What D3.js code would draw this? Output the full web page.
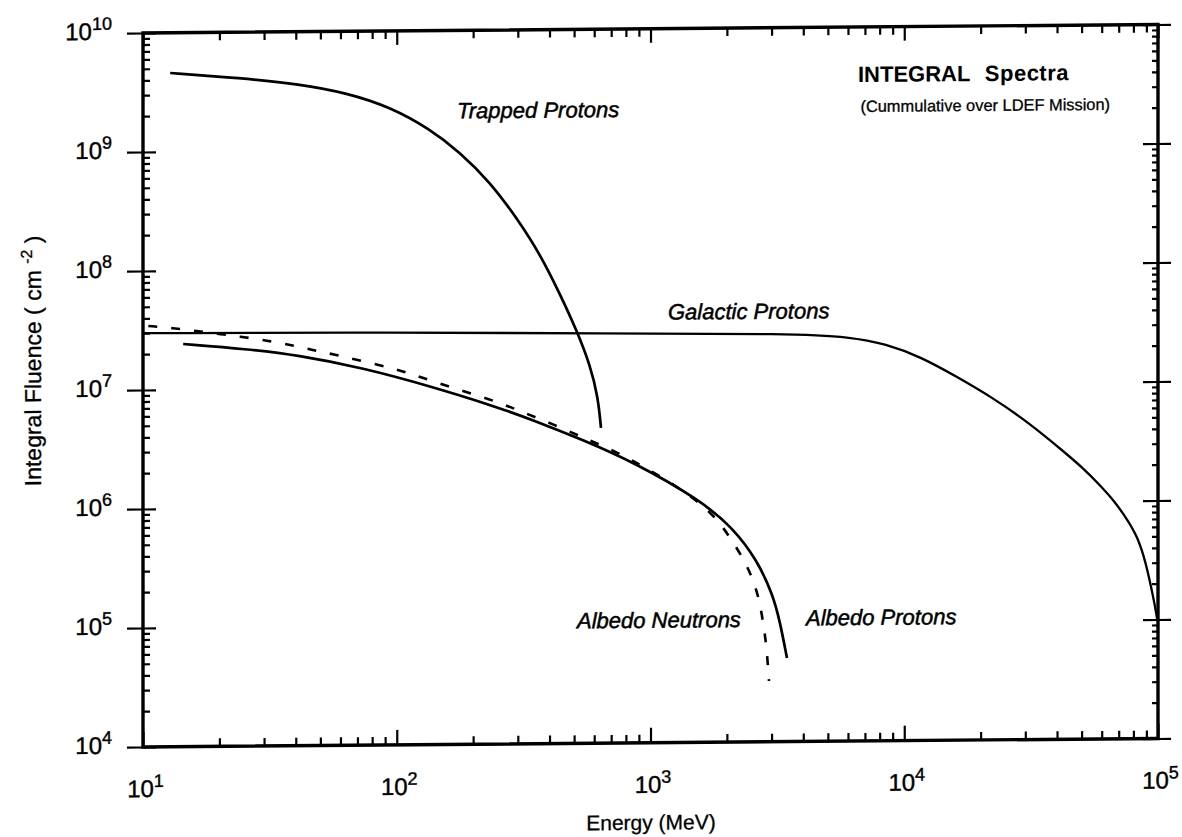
<!DOCTYPE html>
<html>
<head>
<meta charset="utf-8">
<script src="https://cdn.jsdelivr.net/npm/d3@7"></script>
<style>
body { margin: 0; background: #fff; }
svg { display: block; font-family: "Liberation Sans", Arial, Helvetica, sans-serif; }
</style>
</head>
<body>
<div id="chart"></div>
<script>
// exponents used for the tick labels (10^n)
var xTickExp = [1, 2, 3, 4, 5];
var yTickExp = [4, 5, 6, 7, 8, 9, 10];

// energy (MeV) / integral fluence (cm^-2)
var trappedE = [12.8, 24.1, 41.6, 63.7, 94, 135, 177, 233, 298, 367, 440, 513, 578, 621, 638];
var trappedF = [4.59e9, 4.12e9, 3.63e9, 3.03e9, 2.3e9, 1.49e9, 9.5e8, 5.3e8, 2.6e8, 1.3e8, 5.98e7, 2.92e7, 1.51e7, 8.1e6, 4.46e6];

var galacticE = [10, 100, 630, 3700, 6110, 8470, 11640, 16140, 22390, 31050, 42660, 50600, 59000, 67700, 75500, 83400, 89700, 93800, 97300, 99100];
var galacticF = [3.0e7, 2.94e7, 2.77e7, 2.68e7, 2.49e7, 2.16e7, 1.67e7, 1.13e7, 7.46e6, 4.58e6, 2.6e6, 1.9e6, 1.36e6, 9.8e5, 7.0e5, 4.9e5, 2.95e5, 1.9e5, 1.3e5, 1.02e5];

var protonsE = [14.4, 25.7, 40.5, 73.6, 135, 248, 344, 542, 853, 1567, 2114, 2630, 3040, 3240, 3450];
var protonsF = [2.42e7, 2.17e7, 1.92e7, 1.48e7, 1.03e7, 6.8e6, 5.25e6, 3.54e6, 2.3e6, 1.09e6, 6.3e5, 3.37e5, 1.71e5, 1.01e5, 5.04e4];

var neutronsE = [10.5, 13.1, 16.3, 25, 31.4, 39.7, 48.5, 60.3, 75.6, 95.7, 117, 146, 182, 231, 287, 357, 448, 557, 680, 845, 1194, 1610, 1880, 2114, 2336, 2512, 2654, 2750, 2825, 2877, 2930];
var neutronsF = [3.45e7, 3.3e7, 3.1e7, 2.74e7, 2.53e7, 2.29e7, 2.07e7, 1.87e7, 1.66e7, 1.47e7, 1.28e7, 1.09e7, 9.3e6, 7.94e6, 6.65e6, 5.46e6, 4.48e6, 3.6e6, 3.02e6, 2.38e6, 1.55e6, 9.9e5, 6.95e5, 4.8e5, 3.38e5, 2.43e5, 1.71e5, 1.16e5, 7.9e4, 5.7e4, 3.24e4];

function main()
{
    var svgWidth = 1182;
    var svgHeight = 837;

    var svg = d3.select("#chart").append("svg")
        .attr("width", svgWidth)
        .attr("height", svgHeight);

    svg.append("rect")
        .attr("width", svgWidth)
        .attr("height", svgHeight)
        .attr("fill", "#fff");

    // the scan is slightly sheared: right side sits ~8px higher than the left
    var plot = svg.append("g")
        .attr("transform", "translate(143,0) skewY(-0.48) translate(-143,0)");

    var x = d3.scaleLog().domain([10, 1e5]).range([143, 1158]);
    var y = d3.scaleLog().domain([1e4, 1e10]).range([747, 33]);

    var majorX = xTickExp.map(function(e) { return Math.pow(10, e); });
    var majorY = yTickExp.map(function(e) { return Math.pow(10, e); });

    function minors(majors) {
        var out = [];
        majors.slice(0, -1).forEach(function(m) {
            for (var k = 2; k < 10; k++) out.push(m * k);
        });
        return out;
    }
    var minorX = minors(majorX);
    var minorY = minors(majorY);

    // tick marks only (labels drawn separately)
    function ticks(axis, tx, ty) {
        plot.append("g")
            .attr("transform", "translate(" + tx + "," + ty + ")")
            .call(axis.tickFormat(function() { return ""; }))
            .call(function(g) { g.select(".domain").remove(); })
            .selectAll("line")
            .attr("stroke", "#000")
            .attr("stroke-width", 2.2);
    }

    // bottom
    ticks(d3.axisTop(x).tickValues(majorX).tickSize(15), 0, 747);
    ticks(d3.axisTop(x).tickValues(minorX).tickSize(8), 0, 747);
    // top
    ticks(d3.axisBottom(x).tickValues(majorX).tickSize(14), 0, 33);
    ticks(d3.axisBottom(x).tickValues(minorX).tickSize(8), 0, 33);
    // left
    ticks(d3.axisRight(y).tickValues(majorY).tickSize(13), 143, 0);
    ticks(d3.axisRight(y).tickValues(minorY).tickSize(7), 143, 0);
    ticks(d3.axisLeft(y).tickValues(majorY).tickSize(16), 143, 0);
    // right
    ticks(d3.axisLeft(y).tickValues(majorY).tickSize(15), 1158, 0);
    ticks(d3.axisLeft(y).tickValues(minorY).tickSize(6), 1158, 0);
    ticks(d3.axisRight(y).tickValues(majorY).tickSize(13), 1158, 0);

    // frame
    plot.append("rect")
        .attr("x", 143)
        .attr("y", 33)
        .attr("width", 1158 - 143)
        .attr("height", 747 - 33)
        .attr("fill", "none")
        .attr("stroke", "#000")
        .attr("stroke-width", 3.4);

    // "10" with a raised exponent
    function powLabel(d) {
        var t = d3.select(this);
        t.text(null);
        t.append("tspan").text("10");
        t.append("tspan")
            .attr("dy", -10)
            .attr("font-size", 18)
            .text(Math.round(Math.log10(d)));
    }

    plot.append("g")
        .attr("transform", "translate(0,747)")
        .call(d3.axisBottom(x).tickValues(majorX).tickSize(0))
        .call(function(g) { g.select(".domain").remove(); })
        .attr("font-size", 24)
        .attr("font-family", null)
        .selectAll("text")
        .attr("fill", "#000")
        .attr("stroke", "#000")
        .attr("stroke-width", 0.4)
        .attr("x", 2)
        .attr("y", 50)
        .attr("dy", null)
        .each(powLabel);

    plot.append("g")
        .attr("transform", "translate(143,0)")
        .call(d3.axisLeft(y).tickValues(majorY).tickSize(0).tickPadding(31))
        .call(function(g) { g.select(".domain").remove(); })
        .attr("font-size", 24)
        .attr("font-family", null)
        .selectAll("text")
        .attr("fill", "#000")
        .attr("stroke", "#000")
        .attr("stroke-width", 0.4)
        .attr("dy", 6)
        .each(powLabel);

    // curves
    var line = d3.line()
        .x(function(d) { return x(d[0]); })
        .y(function(d) { return y(d[1]); })
        .curve(d3.curveBasis);

    function zip(a, b) { return a.map(function(v, i) { return [v, b[i]]; }); }

    var series = [
        { pts: zip(trappedE, trappedF), w: 2.7, dash: null },
        { pts: zip(galacticE, galacticF), w: 2.3, dash: null },
        { pts: zip(protonsE, protonsF), w: 2.7, dash: null },
        { pts: zip(neutronsE, neutronsF), w: 2.6, dash: "9,14" }
    ];

    plot.selectAll(".curve")
        .data(series)
        .enter()
        .append("path")
        .attr("class", "curve")
        .attr("d", function(d) { return line(d.pts); })
        .attr("fill", "none")
        .attr("stroke", "#000")
        .attr("stroke-width", function(d) { return d.w; })
        .attr("stroke-dasharray", function(d) { return d.dash; });

    // curve names
    var names = [
        { text: "Trapped Protons", x: 457, y: 121 },
        { text: "Galactic Protons", x: 668, y: 324 },
        { text: "Albedo Neutrons", x: 577, y: 632 },
        { text: "Albedo Protons", x: 806, y: 631 }
    ];
    plot.selectAll(".name")
        .data(names)
        .enter()
        .append("text")
        .attr("class", "name")
        .attr("x", function(d) { return d.x; })
        .attr("y", function(d) { return d.y; })
        .attr("font-size", 22)
        .attr("font-style", "italic")
        .attr("stroke", "#000")
        .attr("stroke-width", 0.5)
        .text(function(d) { return d.text; });

    // title block
    plot.append("text")
        .attr("x", 858)
        .attr("y", 88)
        .attr("font-size", 22)
        .attr("font-weight", "bold")
        .text("INTEGRAL");
    plot.append("text")
        .attr("x", 1069)
        .attr("y", 88)
        .attr("text-anchor", "end")
        .attr("font-size", 22)
        .attr("font-weight", "bold")
        .attr("letter-spacing", 0.5)
        .text("Spectra");
    plot.append("text")
        .attr("x", 1110)
        .attr("y", 118)
        .attr("text-anchor", "end")
        .attr("font-size", 16.4)
        .attr("stroke", "#000")
        .attr("stroke-width", 0.3)
        .text("(Cummulative over LDEF Mission)");

    // axis titles
    plot.append("text")
        .attr("x", 651)
        .attr("y", 834)
        .attr("text-anchor", "middle")
        .attr("font-size", 21)
        .attr("stroke", "#000")
        .attr("stroke-width", 0.3)
        .text("Energy (MeV)");

    var yl = plot.append("text")
        .attr("transform", "translate(41,360) rotate(-90)")
        .attr("text-anchor", "middle")
        .attr("font-size", 23)
        .attr("stroke", "#000")
        .attr("stroke-width", 0.3)
        .style("white-space", "pre");
    yl.append("tspan").text("Integral Fluence ( cm ");
    yl.append("tspan").attr("dy", -9).attr("font-size", 16).text("-2");
    yl.append("tspan").attr("dy", 9).text(" )");
}
main();
</script>
</body>
</html>
